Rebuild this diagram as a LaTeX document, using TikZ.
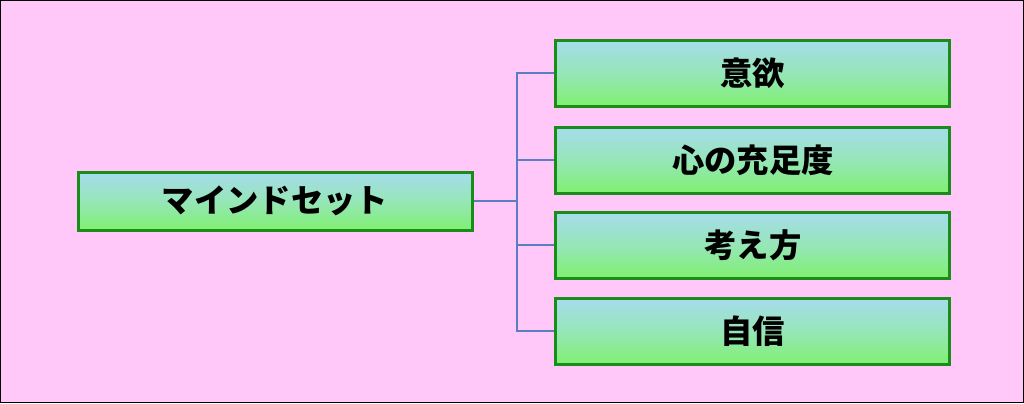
\documentclass[tikz,border=0pt]{standalone}
\usepackage{fontspec}
\setmainfont{Noto Sans CJK JP}
\usetikzlibrary{positioning}
\definecolor{bgpink}{HTML}{FFC8F8}
\definecolor{boxline}{HTML}{1A8C1A}
\definecolor{boxtop}{HTML}{A6DCEC}
\definecolor{boxmid}{HTML}{96E6B8}
\definecolor{boxbot}{HTML}{80F070}
\definecolor{linkblue}{HTML}{5A7FC0}
\tikzset{
  topicbox/.style={draw=boxline, line width=2.2pt, top color=boxtop,
    bottom color=boxbot, middle color=boxmid,
    minimum width=9.85cm, inner sep=0pt, font=\fontsize{23}{27}\selectfont\bfseries},
  link/.style={linkblue, line width=1.5pt}
}
\begin{document}
\begin{tikzpicture}[x=0.025cm, y=-0.025cm]
%Background
\draw[fill=bgpink, draw=black, line width=1pt] (0.5,0.5) rectangle (1023.5,402.5);
\useasboundingbox (0,0) rectangle (1024,403);
%Main topic
\node[topicbox, minimum height=1.45cm] (mind) at (275,201) {マインドセット};
%Sub topics
\node[topicbox, minimum height=1.65cm] (iyoku) at (753,73) {意欲};
\node[topicbox, minimum height=1.65cm] (kokoro) at (753,160) {心の充足度};
\node[topicbox, minimum height=1.65cm] (kangae) at (753,245) {考え方};
\node[topicbox, minimum height=1.65cm] (jishin) at (753,331) {自信};
%Links
\coordinate (fork) at (517,201);
\draw[link] (mind.east) -- (fork);
\foreach \n in {iyoku,kokoro,kangae,jishin} {
  \draw[link] (fork) |- (\n.west);
}
\end{tikzpicture}
\end{document}
